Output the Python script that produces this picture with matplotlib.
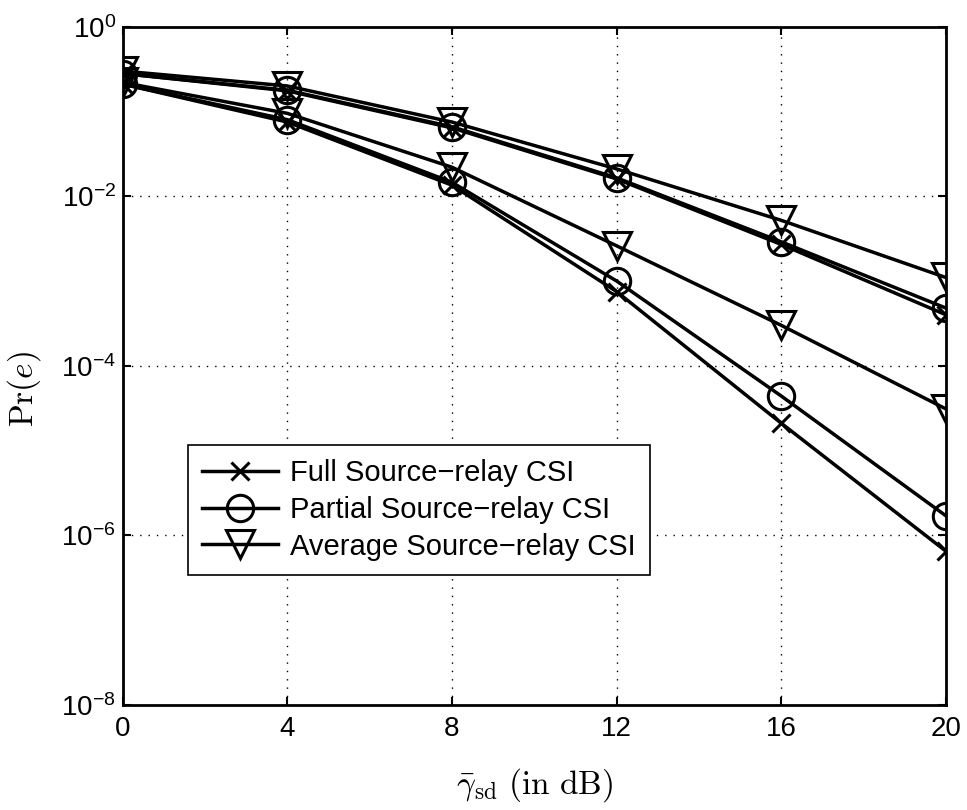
import matplotlib.pyplot as plt
from matplotlib.ticker import NullLocator

plt.rcParams['font.family'] = ['Liberation Sans', 'DejaVu Sans']
plt.rcParams['mathtext.fontset'] = 'cm'

# SNR (dB)
snr = [0, 4, 8, 12, 16, 20]

# grupo superior (decaimiento lento)
full_a = [0.28, 0.175, 0.064, 0.0160, 0.0027, 4.0e-4]
partial_a = [0.28, 0.178, 0.066, 0.0165, 0.0029, 4.8e-4]
average_a = [0.30, 0.20, 0.075, 0.021, 0.0052, 1.1e-3]

# grupo inferior (decaimiento rápido)
full_b = [0.21, 0.075, 0.0135, 7.5e-4, 2.1e-5, 6.5e-7]
partial_b = [0.21, 0.080, 0.0146, 1.0e-3, 4.4e-5, 1.7e-6]
average_b = [0.22, 0.095, 0.022, 2.6e-3, 3.0e-4, 3.1e-5]

labels = ['Full Source\u2212relay CSI', 'Partial Source\u2212relay CSI',
          'Average Source\u2212relay CSI']

fig = plt.figure(figsize=(9.67, 8.1), dpi=100)
ax = fig.add_axes([0.127, 0.130, 0.851, 0.837])

estilo = dict(color='black', linewidth=2.5, markerfacecolor='none',
              markeredgewidth=2.2)

ax.plot(snr, full_a, marker='x', markersize=13, label=labels[0], **estilo)
ax.plot(snr, partial_a, marker='o', markersize=19, label=labels[1], **estilo)
ax.plot(snr, average_a, marker='v', markersize=20, label=labels[2], **estilo)
ax.plot(snr, full_b, marker='x', markersize=13, **estilo)
ax.plot(snr, partial_b, marker='o', markersize=19, **estilo)
ax.plot(snr, average_b, marker='v', markersize=20, **estilo)

ax.set_yscale('log')
ax.set_xlim(0, 20)
ax.set_ylim(1e-8, 1e0)
ax.set_xticks(snr)
ax.set_yticks([1e0, 1e-2, 1e-4, 1e-6, 1e-8])
ax.yaxis.set_minor_locator(NullLocator())
ax.tick_params(direction='in', labelsize=20, length=6, width=1.5,
               top=True, right=True)
ax.tick_params(axis='x', pad=8)
ax.tick_params(axis='y', pad=5)
for s in ax.spines.values():
    s.set_linewidth(2.0)
ax.grid(True, linestyle=(0, (1, 5)), color='black', linewidth=1.0)

ax.set_xlabel(r'$\bar{\gamma}_{\mathrm{sd}}\ \mathrm{(in\ dB)}$', fontsize=24)
ax.set_ylabel(r'$\mathrm{Pr}(e)$', fontsize=24)
ax.xaxis.set_label_coords(0.5, -0.090)
ax.yaxis.set_label_coords(-0.097, 0.466)

leg = ax.legend(loc='lower left', bbox_to_anchor=(0.079, 0.191), borderaxespad=0,
                fontsize=21, fancybox=False, edgecolor='black', framealpha=1,
                handlelength=2.6, handletextpad=0.4, borderpad=0.5,
                labelspacing=0.3)
leg.get_frame().set_linewidth(1.2)

fig.savefig('out.png', dpi=100)
